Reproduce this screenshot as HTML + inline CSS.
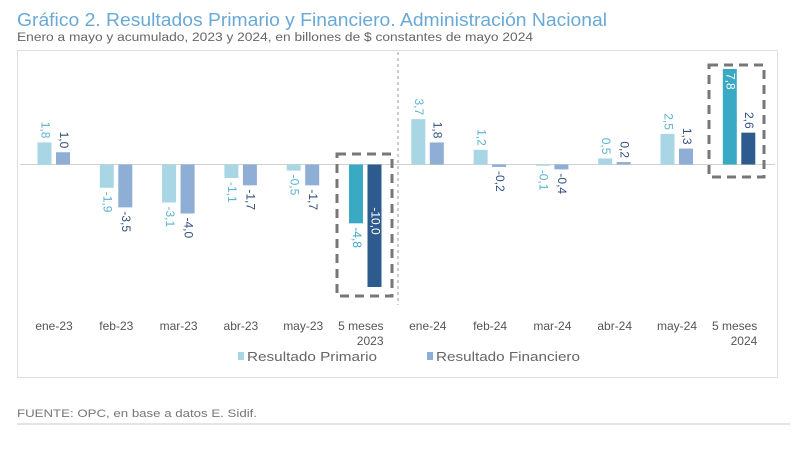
<!DOCTYPE html>
<html><head><meta charset="utf-8"><style>
body{margin:0;background:#fff;width:800px;height:449px;overflow:hidden;font-family:"Liberation Sans",sans-serif;}
</style></head><body>
<svg width="800" height="449" style="position:absolute;left:0;top:0">
<text x="17" y="26" font-size="18" fill="#6aa9d6" textLength="590" lengthAdjust="spacingAndGlyphs">Gráfico 2. Resultados Primario y Financiero. Administración Nacional</text>
<text x="17" y="41" font-size="11.5" fill="#666" textLength="516" lengthAdjust="spacingAndGlyphs">Enero a mayo y acumulado, 2023 y 2024, en billones de $ constantes de mayo 2024</text>
<rect x="17.5" y="50.5" width="760" height="327" fill="none" stroke="#ddd"/>
<g id="bars"></g>
<line x1="398" y1="52" x2="398" y2="305" stroke="#999" stroke-dasharray="3,3"/>
<rect x="337" y="154" width="55" height="142" fill="none" stroke="#777" stroke-width="3" stroke-dasharray="9,6"/>
<rect x="709" y="65" width="55" height="112" fill="none" stroke="#777" stroke-width="3" stroke-dasharray="9,6"/>
<rect x="238" y="352" width="6" height="8" fill="#a9d6e5"/>
<text x="247" y="361" font-size="13" fill="#666" textLength="130" lengthAdjust="spacingAndGlyphs">Resultado Primario</text>
<rect x="427" y="352" width="6" height="8" fill="#8eaed6"/>
<text x="436" y="361" font-size="13" fill="#666" textLength="144" lengthAdjust="spacingAndGlyphs">Resultado Financiero</text>
<text x="17" y="417" font-size="11" fill="#777" textLength="240" lengthAdjust="spacingAndGlyphs">FUENTE: OPC, en base a datos E. Sidif.</text>
<line x1="17" y1="424" x2="790" y2="424" stroke="#e4e4e4" stroke-width="2"/>
</svg>
<script>
const categories=["ene-23","feb-23","mar-23","abr-23","may-23","5 meses|2023","ene-24","feb-24","mar-24","abr-24","may-24","5 meses|2024"];
const primario=[1.8,-1.9,-3.1,-1.1,-0.5,-4.8,3.7,1.2,-0.1,0.5,2.5,7.8];
const financiero=[1.0,-3.5,-4.0,-1.7,-1.7,-10.0,1.8,-0.2,-0.4,0.2,1.3,2.6];
const NS="http://www.w3.org/2000/svg";
const g=document.getElementById('bars');
const y0=164.5, k=12.25;
const y=v=>y0-v*k;
const xc=i=>54+i*62.3;
function mk(t,a){const e=document.createElementNS(NS,t);for(const n in a)e.setAttribute(n,a[n]);g.appendChild(e);return e;}
const zl=mk('line',{x1:20,x2:775,y1:y0,y2:y0,stroke:'#d0d0d0'});


const fmt=v=>v.toFixed(1).replace('.',',');
categories.forEach((c,i)=>{
  const tot=c.indexOf('|')>=0;
  [[primario[i],-9.5,tot?'#3aa9c3':'#a9d6e5','#5bb3cf','primario'],[financiero[i],9,tot?'#2e5b8e':'#8eaed6','#2f4f7f','financiero']].forEach(([v,off,fill,lc,nm])=>{
    const cx=xc(i)+off, w=14;
    const top=Math.min(y(v),y0), h=Math.max(Math.abs(v*k),1);
    const r=mk('rect',{x:cx-w/2,y:top,width:w,height:h,fill:fill});
    
    
    const inside=tot&&Math.abs(v)>5;
    let ly;
    if(inside) ly=v>0?y(v)+4:y0+(y(v)-y0)*0.35;
    else ly=v>=0?y(v)-4:y(v)+4;
    const anchor=inside?'start':(v>=0?'end':'start');
    const t=mk('text',{x:0,y:0,'font-size':12,fill:inside?'#fff':(tot&&nm=='primario'?'#3aa9c3':lc),'text-anchor':anchor,'dominant-baseline':'middle',transform:`translate(${cx},${ly}) rotate(90)`});
    t.textContent=fmt(v);
    
    
  });
  const parts=c.split('|');
  parts.forEach((p,j)=>{
    const t=mk('text',{x:tot?xc(i)+18:xc(i),y:330+j*15,'font-size':12,fill:'#555','text-anchor':tot?'end':'middle'});
    t.textContent=p;
    
    
  });
});
</script>
</body></html>
